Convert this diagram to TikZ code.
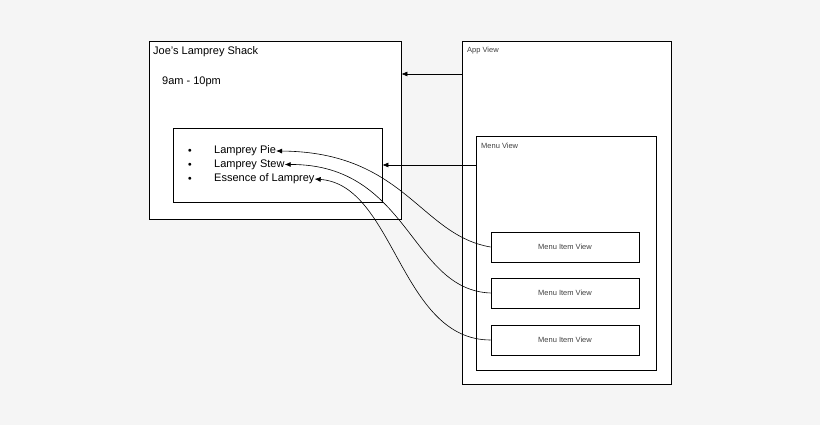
\documentclass[tikz,border=0pt]{standalone}
\usepackage{fontspec}
\setmainfont{Liberation Sans}
\usetikzlibrary{arrows.meta}
\tikzset{
  view/.style={draw,line width=0.8pt,fill=white},
  big/.style={font=\fontsize{11}{13}\selectfont,anchor=west,inner sep=0},
  small/.style={font=\fontsize{7.5}{9}\selectfont,text=black!75,anchor=west,inner sep=0},
  link/.style={-{Latex[length=6pt,width=5pt]},line width=0.6pt}
}
\begin{document}
\begin{tikzpicture}[x=1pt,y=-1pt]
  \fill[black!4] (0,0) rectangle (820,425);
  \useasboundingbox (0,0) rectangle (820,425);

  % shack page
  \node[view,minimum width=252,minimum height=178,inner sep=0] (shack) at (275,130) {};
  \node[big] (title) at (153,52) {Joe's Lamprey Shack};
  \node[big] (hours) at (162,82) {9am - 10pm};
  \node[view,minimum width=209,minimum height=74,inner sep=0] (list) at (277.5,165) {};
  \node[big] (pie) at (214,151) {Lamprey Pie};
  \node[big] (stew) at (214,164.5) {Lamprey Stew};
  \node[big] (essence) at (214,179) {Essence of Lamprey};
  \foreach \y in {151,164.5,179}
    \node[font=\fontsize{7}{8}\selectfont,inner sep=0] at (190,\y) {$\bullet$};

  % views
  \node[view,minimum width=209,minimum height=343,inner sep=0] (app) at (566.5,212.5) {};
  \node[small] (applabel) at (467,51) {App View};
  \node[view,minimum width=180,minimum height=234,inner sep=0] (menu) at (566,253) {};
  \node[small] (menulabel) at (481,146) {Menu View};
  \node[view,minimum width=148,minimum height=30,inner sep=0,font=\fontsize{7.5}{9}\selectfont,text=black!75] (item1) at (565,247) {Menu Item View};
  \node[view,minimum width=148,minimum height=30,inner sep=0,font=\fontsize{7.5}{9}\selectfont,text=black!75] (item2) at (565,293) {Menu Item View};
  \node[view,minimum width=148,minimum height=30,inner sep=0,font=\fontsize{7.5}{9}\selectfont,text=black!75] (item3) at (565,340) {Menu Item View};

  \draw[link] (app.west |- 0,74) -- (shack.east |- 0,74);
  \draw[link] (menu.west |- 0,165) -- (list.east |- 0,165);

  \draw[link] (item1.west) .. controls (420,235) and (405,152) .. (pie.east);
  \draw[link] (item2.west) .. controls (410,290) and (410,164) .. (stew.east);
  \draw[link] (item3.west) .. controls (400,340) and (395,185) .. (essence.east);
\end{tikzpicture}
\end{document}
